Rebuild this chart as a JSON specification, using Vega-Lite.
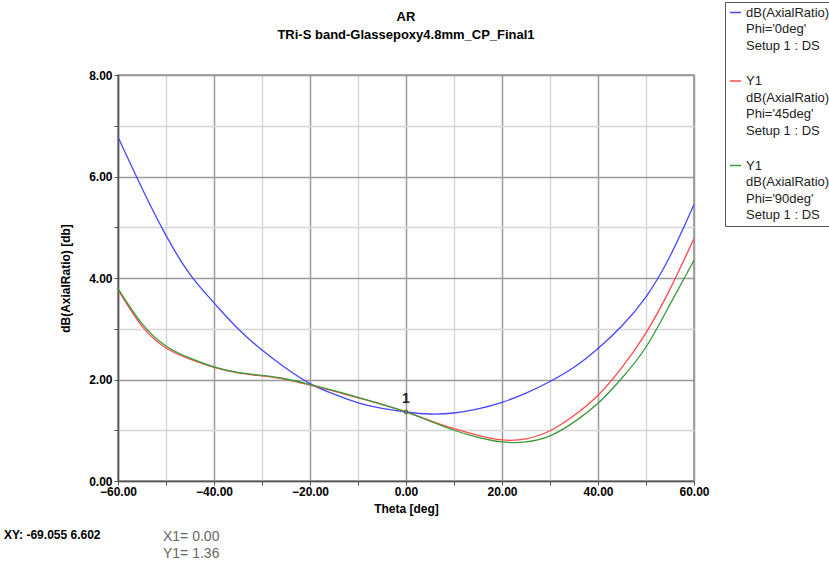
{
  "$schema": "https://vega.github.io/schema/vega-lite/v6.json",
  "autosize": {"type": "none"},
  "width": 576,
  "height": 406,
  "padding": {"left": 118, "top": 75, "right": 135, "bottom": 82},
  "background": "white",
  "title": {
    "text": "AR",
    "subtitle": "TRi-S band-Glassepoxy4.8mm_CP_Final1",
    "font": "Liberation Sans",
    "fontSize": 13,
    "fontWeight": "bold",
    "subtitleFont": "Liberation Sans",
    "subtitleFontSize": 13,
    "subtitleFontWeight": "bold",
    "subtitleColor": "black",
    "color": "black",
    "subtitlePadding": 5,
    "anchor": "middle",
    "offset": -40
  },
  "config": {
    "view": {"stroke": "#8c8c8c", "strokeWidth": 1.5},
    "style": {"guide-label": {"lineHeight": 16.5}},
    "axis": {
      "labelFont": "Liberation Sans",
      "labelFontSize": 12,
      "labelFontWeight": "bold",
      "labelColor": "black",
      "titleFont": "Liberation Sans",
      "titleFontSize": 12,
      "titleFontWeight": "bold",
      "titleColor": "black",
      "domainColor": "#555555",
      "domainWidth": 1.5,
      "tickColor": "#555555",
      "tickSize": 4
    }
  },
  "layer": [
    {
      "data": {
        "values": [
          {"theta": -60, "ar": 6.78, "phi": "0deg"},
          {"theta": -55, "ar": 5.77, "phi": "0deg"},
          {"theta": -50, "ar": 4.84, "phi": "0deg"},
          {"theta": -45, "ar": 4.07, "phi": "0deg"},
          {"theta": -40, "ar": 3.51, "phi": "0deg"},
          {"theta": -35, "ar": 3.0, "phi": "0deg"},
          {"theta": -30, "ar": 2.58, "phi": "0deg"},
          {"theta": -25, "ar": 2.22, "phi": "0deg"},
          {"theta": -20, "ar": 1.92, "phi": "0deg"},
          {"theta": -15, "ar": 1.71, "phi": "0deg"},
          {"theta": -10, "ar": 1.54, "phi": "0deg"},
          {"theta": -5, "ar": 1.43, "phi": "0deg"},
          {"theta": 0, "ar": 1.36, "phi": "0deg"},
          {"theta": 5, "ar": 1.32, "phi": "0deg"},
          {"theta": 10, "ar": 1.34, "phi": "0deg"},
          {"theta": 15, "ar": 1.42, "phi": "0deg"},
          {"theta": 20, "ar": 1.55, "phi": "0deg"},
          {"theta": 25, "ar": 1.73, "phi": "0deg"},
          {"theta": 30, "ar": 1.96, "phi": "0deg"},
          {"theta": 35, "ar": 2.24, "phi": "0deg"},
          {"theta": 40, "ar": 2.61, "phi": "0deg"},
          {"theta": 45, "ar": 3.06, "phi": "0deg"},
          {"theta": 50, "ar": 3.63, "phi": "0deg"},
          {"theta": 55, "ar": 4.43, "phi": "0deg"},
          {"theta": 60, "ar": 5.45, "phi": "0deg"},
          {"theta": -60, "ar": 3.77, "phi": "45deg"},
          {"theta": -55, "ar": 3.05, "phi": "45deg"},
          {"theta": -50, "ar": 2.62, "phi": "45deg"},
          {"theta": -45, "ar": 2.4, "phi": "45deg"},
          {"theta": -40, "ar": 2.24, "phi": "45deg"},
          {"theta": -35, "ar": 2.13, "phi": "45deg"},
          {"theta": -30, "ar": 2.07, "phi": "45deg"},
          {"theta": -25, "ar": 2.0, "phi": "45deg"},
          {"theta": -20, "ar": 1.89, "phi": "45deg"},
          {"theta": -15, "ar": 1.77, "phi": "45deg"},
          {"theta": -10, "ar": 1.64, "phi": "45deg"},
          {"theta": -5, "ar": 1.51, "phi": "45deg"},
          {"theta": 0, "ar": 1.36, "phi": "45deg"},
          {"theta": 5, "ar": 1.19, "phi": "45deg"},
          {"theta": 10, "ar": 1.03, "phi": "45deg"},
          {"theta": 15, "ar": 0.9, "phi": "45deg"},
          {"theta": 20, "ar": 0.81, "phi": "45deg"},
          {"theta": 25, "ar": 0.83, "phi": "45deg"},
          {"theta": 30, "ar": 0.99, "phi": "45deg"},
          {"theta": 35, "ar": 1.29, "phi": "45deg"},
          {"theta": 40, "ar": 1.69, "phi": "45deg"},
          {"theta": 45, "ar": 2.24, "phi": "45deg"},
          {"theta": 50, "ar": 2.92, "phi": "45deg"},
          {"theta": 55, "ar": 3.78, "phi": "45deg"},
          {"theta": 60, "ar": 4.78, "phi": "45deg"},
          {"theta": -60, "ar": 3.79, "phi": "90deg"},
          {"theta": -55, "ar": 3.1, "phi": "90deg"},
          {"theta": -50, "ar": 2.66, "phi": "90deg"},
          {"theta": -45, "ar": 2.42, "phi": "90deg"},
          {"theta": -40, "ar": 2.25, "phi": "90deg"},
          {"theta": -35, "ar": 2.14, "phi": "90deg"},
          {"theta": -30, "ar": 2.08, "phi": "90deg"},
          {"theta": -25, "ar": 2.01, "phi": "90deg"},
          {"theta": -20, "ar": 1.9, "phi": "90deg"},
          {"theta": -15, "ar": 1.78, "phi": "90deg"},
          {"theta": -10, "ar": 1.65, "phi": "90deg"},
          {"theta": -5, "ar": 1.51, "phi": "90deg"},
          {"theta": 0, "ar": 1.36, "phi": "90deg"},
          {"theta": 5, "ar": 1.18, "phi": "90deg"},
          {"theta": 10, "ar": 1.0, "phi": "90deg"},
          {"theta": 15, "ar": 0.86, "phi": "90deg"},
          {"theta": 20, "ar": 0.77, "phi": "90deg"},
          {"theta": 25, "ar": 0.77, "phi": "90deg"},
          {"theta": 30, "ar": 0.89, "phi": "90deg"},
          {"theta": 35, "ar": 1.16, "phi": "90deg"},
          {"theta": 40, "ar": 1.53, "phi": "90deg"},
          {"theta": 45, "ar": 2.03, "phi": "90deg"},
          {"theta": 50, "ar": 2.64, "phi": "90deg"},
          {"theta": 55, "ar": 3.48, "phi": "90deg"},
          {"theta": 60, "ar": 4.35, "phi": "90deg"}
        ]
      },
      "mark": {"type": "line", "interpolate": "natural", "strokeWidth": 1.3},
      "encoding": {
        "x": {
          "field": "theta",
          "type": "quantitative",
          "scale": {"domain": [-60, 60], "nice": false, "zero": false},
          "axis": {
            "title": "Theta [deg]",
            "titlePadding": 6,
            "values": [-60, -55, -50, -45, -40, -35, -30, -25, -20, -15, -10, -5, 0, 5, 10, 15, 20, 25, 30, 35, 40, 45, 50, 55, 60],
            "labelExpr": "datum.value % 20 == 0 ? format(datum.value, '.2f') : ''",
            "labelPadding": 1,
            "labelFlush": false,
            "labelOverlap": false,
            "gridColor": {"condition": {"test": "datum.value % 20 == 0", "value": "#9a9a9a"}, "value": "#d6d6d6"},
            "gridWidth": 1.5
          }
        },
        "y": {
          "field": "ar",
          "type": "quantitative",
          "scale": {"domain": [0, 8], "nice": false},
          "axis": {
            "title": "dB(AxialRatio) [db]",
            "titlePadding": 16,
            "values": [0, 0.5, 1, 1.5, 2, 2.5, 3, 3.5, 4, 4.5, 5, 5.5, 6, 6.5, 7, 7.5, 8],
            "labelExpr": "datum.value % 2 == 0 ? format(datum.value, '.2f') : ''",
            "labelPadding": 2,
            "labelFlush": false,
            "labelOverlap": false,
            "gridColor": {"condition": {"test": "datum.value % 2 == 0", "value": "#9a9a9a"}, "value": "#d6d6d6"},
            "gridWidth": 1.5
          }
        },
        "color": {
          "field": "phi",
          "type": "nominal",
          "scale": {"domain": ["0deg", "45deg", "90deg"], "range": ["#4646ff", "#ff4a4a", "#3c9a3c"]},
          "legend": {
            "orient": "none",
            "legendX": 607,
            "legendY": -73,
            "title": null,
            "symbolType": "stroke",
            "symbolStrokeWidth": 1.5,
            "symbolSize": 120,
            "labelFont": "Liberation Sans",
            "labelFontSize": 13,
            "labelColor": "#222222",
            "labelLimit": 400,
            "rowPadding": 21.5,
            "padding": 4,
            "strokeColor": "#555555",
            "labelExpr": "datum.label == '0deg' ? [\"dB(AxialRatio) [dB]\", \"Phi='\" + datum.label + \"'\", \"Setup 1 : DS\"] : [\"Y1\", \"dB(AxialRatio) [dB]\", \"Phi='\" + datum.label + \"'\", \"Setup 1 : DS\"]"
          }
        }
      }
    },
    {
      "data": {"values": [{"theta": 0, "ar": 1.36, "label": "1"}]},
      "layer": [
        {
          "mark": {"type": "point", "size": 14, "color": "#333333", "filled": false, "strokeWidth": 1},
          "encoding": {
            "x": {"field": "theta", "type": "quantitative"},
            "y": {"field": "ar", "type": "quantitative"},
            "shape": {
              "field": "label",
              "type": "nominal",
              "scale": {"domain": ["1"], "range": ["circle"]},
              "legend": {
                "orient": "none",
                "legendX": -118,
                "legendY": 451,
                "title": "XY: -69.055 6.602",
                "titleOrient": "left",
                "titleAnchor": "start",
                "titleFont": "Liberation Sans",
                "titleFontSize": 12,
                "titleFontWeight": "bold",
                "titleColor": "black",
                "titlePadding": 44,
                "symbolOpacity": 0,
                "symbolSize": 1,
                "labelFont": "Liberation Sans",
                "labelFontSize": 14,
                "labelColor": "#666666",
                "labelExpr": "[\"X1= 0.00\", \"Y1= 1.36\"]",
                "padding": 4
              }
            }
          }
        },
        {
          "mark": {"type": "text", "dy": -13, "fontSize": 14, "fontWeight": "bold", "font": "Liberation Sans", "color": "#222222"},
          "encoding": {
            "x": {"field": "theta", "type": "quantitative"},
            "y": {"field": "ar", "type": "quantitative"},
            "text": {"field": "label"}
          }
        }
      ]
    }
  ]
}
